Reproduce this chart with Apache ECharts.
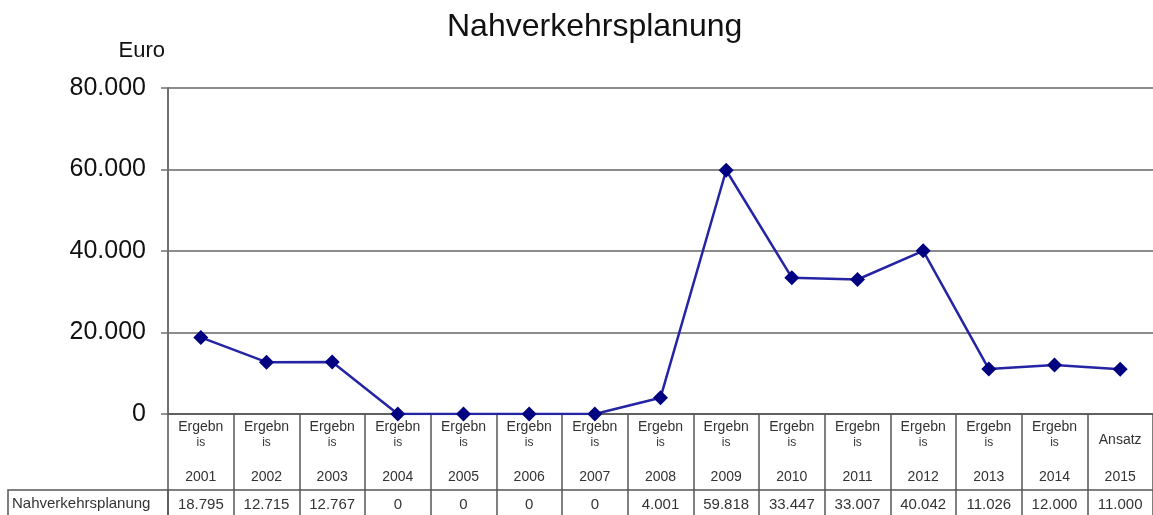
<!DOCTYPE html>
<html>
<head>
<meta charset="utf-8">
<script src="https://cdn.jsdelivr.net/npm/echarts@6/dist/echarts.min.js"></script>
<style>
  html, body { margin: 0; padding: 0; background: #fff; }
  #chart { width: 1153px; height: 515px; }
</style>
</head>
<body>
<div id="chart"></div>
<script>
// Werte aus der Tabelle unter dem Diagramm
const kinds = ['Ergebnis', 'Ergebnis', 'Ergebnis', 'Ergebnis', 'Ergebnis', 'Ergebnis', 'Ergebnis',
  'Ergebnis', 'Ergebnis', 'Ergebnis', 'Ergebnis', 'Ergebnis', 'Ergebnis', 'Ergebnis', 'Ansatz'];
const years = ['2001', '2002', '2003', '2004', '2005', '2006', '2007', '2008',
  '2009', '2010', '2011', '2012', '2013', '2014', '2015'];
const values = [18795, 12715, 12767, 0, 0, 0, 0, 4001, 59818, 33447, 33007, 40042, 11026, 12000, 11000];
const seriesName = 'Nahverkehrsplanung';

const FONT = '"Liberation Sans", Arial, sans-serif';
const fmt = v => String(v).replace(/\B(?=(\d{3})+(?!\d))/g, '.');
const categories = years.map((y, i) => kinds[i] + ' ' + y);

const chart = echarts.init(document.getElementById('chart'));

const option = {
  backgroundColor: '#fff',
  animation: false,
  title: {
    text: 'Nahverkehrsplanung',
    left: 442,
    top: 6,
    textStyle: { fontFamily: FONT, fontSize: 32, fontWeight: 'normal', color: '#111' }
  },
  grid: {
    left: 168,
    right: 0,
    top: 88,
    bottom: 101,
    outerBoundsMode: 'none'
  },
  xAxis: [
    {
      type: 'category',
      data: categories,
      boundaryGap: true,
      axisLine: { lineStyle: { color: '#606060', width: 2 } },
      axisTick: { show: true, interval: 0, length: 101, lineStyle: { color: '#555', width: 1.5 } },
      axisLabel: {
        interval: 0,
        margin: 6,
        formatter: function (val, idx) {
          if (kinds[idx] === 'Ansatz') return '{d|Ansatz}\n{e|' + years[idx] + '}';
          return '{a|Ergebn}\n{b|is}\n{c|' + years[idx] + '}';
        },
        rich: {
          a: { fontFamily: FONT, fontSize: 14, color: '#333', lineHeight: 15 },
          b: { fontFamily: FONT, fontSize: 12, color: '#333', lineHeight: 15 },
          c: { fontFamily: FONT, fontSize: 14, color: '#333', lineHeight: 54 },
          d: { fontFamily: FONT, fontSize: 14, color: '#333', lineHeight: 40 },
          e: { fontFamily: FONT, fontSize: 14, color: '#333', lineHeight: 34 }
        }
      }
    },
    {
      type: 'category',
      position: 'bottom',
      offset: 76,
      data: values.map(fmt),
      boundaryGap: true,
      axisLine: { show: true, lineStyle: { color: '#555', width: 1.5 } },
      axisTick: { show: false },
      axisLabel: {
        interval: 0,
        margin: 7,
        fontFamily: FONT,
        fontSize: 15,
        color: '#333'
      }
    }
  ],
  yAxis: {
    type: 'value',
    min: 0,
    max: 80000,
    interval: 20000,
    name: 'Euro',
    nameLocation: 'end',
    nameGap: 26,
    nameTextStyle: { fontFamily: FONT, fontSize: 22, color: '#111', align: 'right', padding: [0, 3, 0, 0] },
    axisLine: { show: true, lineStyle: { color: '#707070', width: 2 } },
    axisTick: { show: true, length: 7, lineStyle: { color: '#707070', width: 1.5 } },
    axisLabel: {
      margin: 22,
      fontFamily: FONT,
      fontSize: 25,
      color: '#111',
      formatter: v => fmt(v)
    },
    splitLine: { show: true, lineStyle: { color: '#8c8c8c', width: 2 } }
  },
  graphic: [
    {
      type: 'rect',
      shape: { x: 8, y: 490, width: 160, height: 40 },
      style: { fill: 'none', stroke: '#555', lineWidth: 1.5 },
      silent: true
    },
    {
      type: 'text',
      left: 12,
      top: 496,
      style: { text: seriesName, fontFamily: FONT, fontSize: 15, fill: '#333' },
      silent: true
    }
  ],
  series: [
    {
      name: seriesName,
      type: 'line',
      data: values,
      xAxisIndex: 0,
      symbol: 'diamond',
      symbolSize: 15,
      lineStyle: { color: '#2424a4', width: 2.5 },
      itemStyle: { color: '#000080' }
    }
  ]
};

chart.setOption(option);
</script>
</body>
</html>
